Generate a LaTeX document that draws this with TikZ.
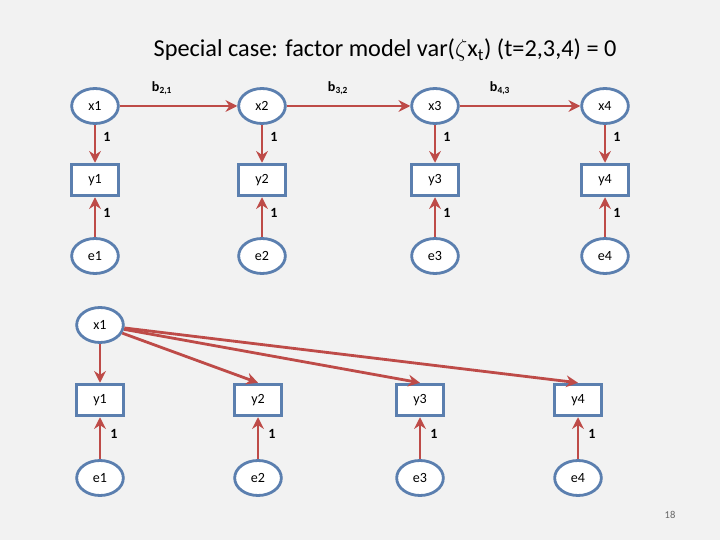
\documentclass[tikz,border=0pt]{standalone}
\usepackage{fontspec}
\setmainfont{Carlito}
\usetikzlibrary{arrows.meta,shapes.geometric}
\definecolor{lineblue}{HTML}{5B7FAF}
\definecolor{arrowred}{HTML}{BE4B48}
\tikzset{
    lat/.style={draw=lineblue, line width=2.4pt, fill=white, ellipse, minimum width=1.4cm, minimum height=1.05cm, inner sep=0pt, font=\large},
    obs/.style={draw=lineblue, line width=2.4pt, fill=white, minimum width=1.4cm, minimum height=0.95cm, inner sep=0pt, font=\large},
    path/.style={draw=arrowred, line width=2.4pt, -{Stealth[length=10pt,width=10pt]}},
    lbl/.style={font=\large\bfseries}
}
\begin{document}
\begin{tikzpicture}[x=0.03cm, y=-0.03cm]
    \fill[black!5] (0,0) rectangle (720,540);
    \node[font=\huge] (title) at (385,50) {Special case: factor model var($\zeta$x\textsubscript{t}) (t=2,3,4) = 0};

    % top model
    \node[lat] (x1) at (95,106) {x1};
    \node[lat] (x2) at (262,106) {x2};
    \node[lat] (x3) at (435,106) {x3};
    \node[lat] (x4) at (605,106) {x4};
    \node[obs] (y1) at (95,180) {y1};
    \node[obs] (y2) at (262,180) {y2};
    \node[obs] (y3) at (435,180) {y3};
    \node[obs] (y4) at (605,180) {y4};
    \node[lat] (e1) at (95,256) {e1};
    \node[lat] (e2) at (262,256) {e2};
    \node[lat] (e3) at (435,256) {e3};
    \node[lat] (e4) at (605,256) {e4};

    \draw[path] (x1) to (x2);
    \draw[path] (x2) to (x3);
    \draw[path] (x3) to (x4);
    \node[lbl] (b21) at (162,88) {b\textsubscript{2,1}};
    \node[lbl] (b32) at (338,88) {b\textsubscript{3,2}};
    \node[lbl] (b43) at (500,88) {b\textsubscript{4,3}};

    \foreach \i/\xx in {1/95, 2/262, 3/435, 4/605} {
        \draw[path] (x\i) to (y\i);
        \draw[path] (e\i) to (y\i);
        \node[lbl] at (\xx+12,137) {1};
        \node[lbl] at (\xx+12,213) {1};
    }

    % bottom model
    \node[lat] (bx1) at (100,325) {x1};
    \node[obs] (by1) at (100,400) {y1};
    \node[obs] (by2) at (258,400) {y2};
    \node[obs] (by3) at (420,400) {y3};
    \node[obs] (by4) at (578,400) {y4};
    \node[lat] (be1) at (100,478) {e1};
    \node[lat] (be2) at (258,478) {e2};
    \node[lat] (be3) at (420,478) {e3};
    \node[lat] (be4) at (578,478) {e4};

    \foreach \i/\xx in {1/100, 2/258, 3/420, 4/578} {
        \draw[path] (bx1) to (by\i.north);
        \draw[path] (be\i) to (by\i);
        \node[lbl] at (\xx+14,434) {1};
    }

    \node[font=\small, text=black!60] (page) at (670,515) {18};
\end{tikzpicture}
\end{document}
